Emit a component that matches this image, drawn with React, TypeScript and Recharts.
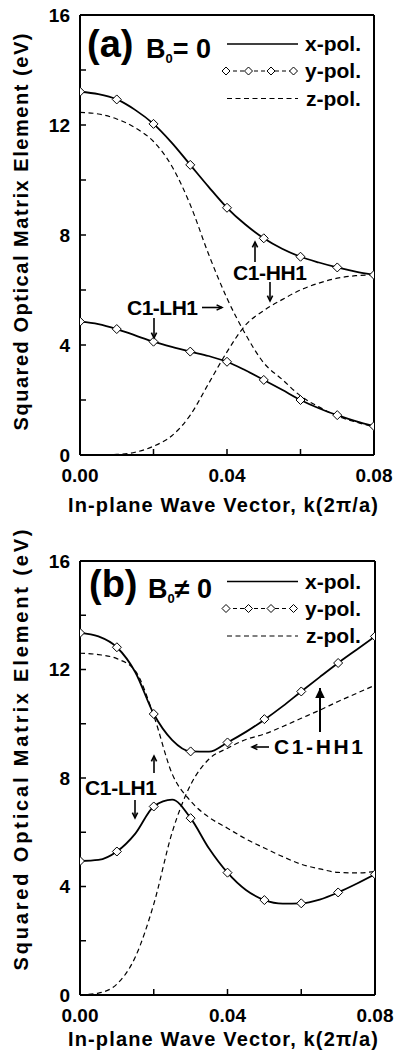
import React from 'react'
import { LineChart, Line, XAxis, YAxis } from 'recharts'

const FONT = '"Liberation Sans", Arial, Helvetica, sans-serif'

// k grid (units of 2π/a)
const kFine = [0, 0.005, 0.01, 0.015, 0.02, 0.025, 0.03, 0.035, 0.04, 0.045, 0.05, 0.055, 0.06, 0.065, 0.07, 0.075, 0.08]
const kMarks = [0, 0.01, 0.02, 0.03, 0.04, 0.05, 0.06, 0.07, 0.08]

// panel (a): B0 = 0
const aHH1x = [13.21, 13.12, 12.93, 12.55, 12.04, 11.35, 10.55, 9.75, 8.99, 8.38, 7.88, 7.5, 7.21, 7.0, 6.82, 6.67, 6.55]
const aLH1x = [4.85, 4.76, 4.58, 4.35, 4.12, 3.93, 3.76, 3.6, 3.39, 3.08, 2.73, 2.37, 2.0, 1.7, 1.45, 1.23, 1.05]
const aZfall = [12.46, 12.4, 12.22, 11.9, 11.4, 10.5, 9.1, 7.3, 5.7, 4.4, 3.35, 2.75, 2.15, 1.75, 1.42, 1.2, 1.02]
const aZrise = [0, 0, 0.02, 0.1, 0.32, 0.7, 1.45, 2.6, 3.75, 4.72, 5.25, 5.65, 6.0, 6.25, 6.43, 6.52, 6.55]
const aHH1y = [13.21, 12.93, 12.04, 10.55, 8.99, 7.88, 7.21, 6.82, 6.55]
const aLH1y = [4.85, 4.58, 4.12, 3.76, 3.39, 2.73, 2.0, 1.45, 1.05]

// panel (b): B0 ≠ 0
const bHH1x = [13.35, 13.22, 12.82, 11.9, 10.36, 9.4, 8.98, 8.97, 9.31, 9.7, 10.15, 10.65, 11.19, 11.72, 12.24, 12.73, 13.22]
const bLH1x = [4.94, 4.98, 5.29, 5.95, 6.95, 7.2, 6.52, 5.4, 4.51, 3.87, 3.5, 3.37, 3.38, 3.52, 3.78, 4.1, 4.45]
const bZfall = [12.6, 12.55, 12.4, 11.95, 10.3, 8.15, 7.15, 6.55, 6.15, 5.75, 5.42, 5.1, 4.82, 4.65, 4.52, 4.5, 4.55]
const bZrise = [0, 0.07, 0.4, 1.4, 3.35, 6.0, 7.75, 8.7, 9.1, 9.42, 9.62, 9.9, 10.2, 10.5, 10.82, 11.12, 11.42]
const bHH1y = [13.35, 12.82, 10.36, 8.98, 9.31, 10.17, 11.19, 12.24, 13.22]
const bLH1y = [4.94, 5.29, 6.95, 6.52, 4.51, 3.5, 3.38, 3.78, 4.45]

const xTicks = [0, 0.02, 0.04, 0.06, 0.08]
const yTicks = [0, 2, 4, 6, 8, 10, 12, 14, 16]

const rows = (ks: number[], vs: number[]) => ks.map((k, i) => ({ k, v: vs[i] }))

const fmtX = (v: number) => (Math.round(v * 100) % 4 === 0 ? v.toFixed(2) : '')
const fmtY = (v: number) => (v % 4 === 0 ? String(v) : '')
const blank = () => ''

const axisLine = { stroke: '#000', strokeWidth: 2 }
const tickLine = { stroke: '#000', strokeWidth: 1.5 }
const tickFont = { fill: '#000', fontSize: 19, fontWeight: 700, fontFamily: FONT }

const Diamond = (p: any) => {
  const { cx, cy, index } = p
  if (cx == null || cy == null) return <g key={index} />
  const r = 4.5
  return (
    <path
      key={index}
      d={`M${cx},${cy - r}L${cx + r},${cy}L${cx},${cy + r}L${cx - r},${cy}Z`}
      fill="#fff"
      stroke="#000"
      strokeWidth={1}
    />
  )
}

interface PanelProps {
  top: number
  height: number
  margin: { top: number; right: number; bottom: number; left: number }
  hh1x: number[]
  lh1x: number[]
  zFall: number[]
  zRise: number[]
  hh1y: number[]
  lh1y: number[]
}

// left axis 40 wide, bottom axis 30 tall, top/right axes 1px so they still render
function Panel({ top, height, margin, hh1x, lh1x, zFall, zRise, hh1y, lh1y }: PanelProps) {
  const solid = { stroke: '#000', strokeWidth: 1.8, dot: false, activeDot: false, isAnimationActive: false, type: 'monotone' as const }
  const dashed = { ...solid, strokeWidth: 1.2, strokeDasharray: '5 3.5' }
  return (
    <div style={{ position: 'absolute', top, left: 0 }}>
      <LineChart width={396} height={height} margin={margin}>
        <XAxis xAxisId="b" dataKey="k" type="number" domain={[0, 0.08]} ticks={xTicks} interval={0}
          tickFormatter={fmtX} height={30} tickSize={-6} tickMargin={20}
          axisLine={axisLine} tickLine={tickLine} tick={tickFont} allowDataOverflow />
        <XAxis xAxisId="t" orientation="top" dataKey="k" type="number" domain={[0, 0.08]} ticks={xTicks} interval={0}
          tickFormatter={blank} height={1} tickSize={-6} axisLine={axisLine} tickLine={tickLine} tick={tickFont} />
        <YAxis yAxisId="l" type="number" domain={[0, 16]} ticks={yTicks} interval={0}
          tickFormatter={fmtY} width={40} tickSize={-6} tickMargin={16}
          axisLine={axisLine} tickLine={tickLine} tick={tickFont} allowDataOverflow />
        <YAxis yAxisId="r" orientation="right" type="number" domain={[0, 16]} ticks={yTicks} interval={0}
          tickFormatter={blank} width={1} tickSize={-6} axisLine={axisLine} tickLine={tickLine} tick={tickFont} />
        <Line xAxisId="b" yAxisId="l" data={rows(kFine, zFall)} dataKey="v" {...dashed} />
        <Line xAxisId="b" yAxisId="l" data={rows(kFine, zRise)} dataKey="v" {...dashed} />
        <Line xAxisId="b" yAxisId="l" data={rows(kFine, hh1x)} dataKey="v" {...solid} />
        <Line xAxisId="b" yAxisId="l" data={rows(kFine, lh1x)} dataKey="v" {...solid} />
        <Line xAxisId="b" yAxisId="l" data={rows(kMarks, hh1y)} dataKey="v" stroke="none" dot={Diamond} activeDot={false} isAnimationActive={false} />
        <Line xAxisId="b" yAxisId="l" data={rows(kMarks, lh1y)} dataKey="v" stroke="none" dot={Diamond} activeDot={false} isAnimationActive={false} />
      </LineChart>
    </div>
  )
}

function Arrow({ x1, y1, x2, y2, head = 6, filled = false, w = 1.6 }: any) {
  const ang = Math.atan2(y2 - y1, x2 - x1)
  const spread = 0.45
  const hx1 = x2 - head * Math.cos(ang - spread)
  const hy1 = y2 - head * Math.sin(ang - spread)
  const hx2 = x2 - head * Math.cos(ang + spread)
  const hy2 = y2 - head * Math.sin(ang + spread)
  return (
    <g>
      <line x1={x1} y1={y1} x2={x2} y2={y2} stroke="#000" strokeWidth={w} />
      {filled ? (
        <path d={`M${x2},${y2}L${hx1},${hy1}L${hx2},${hy2}Z`} fill="#000" />
      ) : (
        <path d={`M${hx1},${hy1}L${x2},${y2}L${hx2},${hy2}`} fill="none" stroke="#000" strokeWidth={w} />
      )}
    </g>
  )
}

function Legend({ y0 }: { y0: number }) {
  const rowsY = [y0, y0 + 27, y0 + 54.5]
  const t = { fontSize: 21, fontWeight: 700, fontFamily: FONT, fill: '#000' }
  const dx = [226, 248.5, 271, 293.5]
  return (
    <g>
      <line x1={227} x2={298} y1={rowsY[0]} y2={rowsY[0]} stroke="#000" strokeWidth={1.5} />
      <text x={305} y={rowsY[0] + 7} {...t}>x-pol.</text>
      <line x1={226} x2={294} y1={rowsY[1]} y2={rowsY[1]} stroke="#000" strokeWidth={1.2} strokeDasharray="4 3" />
      {dx.map((x, i) => (
        <path key={i} d={`M${x},${rowsY[1] - 4}L${x + 4},${rowsY[1]}L${x},${rowsY[1] + 4}L${x - 4},${rowsY[1]}Z`} fill="#fff" stroke="#000" strokeWidth={1} />
      ))}
      <text x={305} y={rowsY[1] + 7} {...t}>y-pol.</text>
      <line x1={227} x2={298} y1={rowsY[2]} y2={rowsY[2]} stroke="#000" strokeWidth={1.2} strokeDasharray="5 3.5" />
      <text x={306} y={rowsY[2] + 7} {...t}>z-pol.</text>
    </g>
  )
}

function Overlay() {
  const bold = { fontWeight: 700, fontFamily: FONT, fill: '#000' }
  const xTitle = 'In-plane  Wave  Vector,  k(2\u03c0/a)'
  const yTitle = 'Squared  Optical  Matrix  Element  (eV)'
  return (
    <svg width={396} height={1055} style={{ position: 'absolute', top: 0, left: 0, pointerEvents: 'none' }}>
      {/* panel (a) */}
      <text x={87} y={57} fontSize={38} {...bold}>(a)</text>
      <text x={146} y={58} fontSize={27} {...bold}>
        B<tspan fontSize={13} dy={5}>0</tspan><tspan dy={-5}>= 0</tspan>
      </text>
      <Legend y0={44} />
      <text x={233} y={280} fontSize={21} textLength={74} {...bold}>C1-HH1</text>
      <Arrow x1={255} y1={262} x2={255} y2={242} />
      <Arrow x1={270} y1={282} x2={270} y2={301} />
      <text x={127} y={315} fontSize={21} textLength={71} {...bold}>C1-LH1</text>
      <Arrow x1={202} y1={307.5} x2={222} y2={307.5} />
      <Arrow x1={154} y1={318} x2={154} y2={338} />
      <text x={223} y={512} fontSize={20} textAnchor="middle" textLength={310} {...bold}>{xTitle}</text>
      <text transform="translate(28,232) rotate(-90)" fontSize={20} textAnchor="middle" textLength={397} {...bold}>{yTitle}</text>

      {/* panel (b) */}
      <text x={89} y={597} fontSize={38} {...bold}>(b)</text>
      <text x={148} y={598} fontSize={27} {...bold}>
        B<tspan fontSize={13} dy={5}>0</tspan><tspan dy={-5}>{'\u2260 0'}</tspan>
      </text>
      <Legend y0={581.5} />
      <Arrow x1={320} y1={732} x2={320} y2={688} head={11} filled w={2} />
      <Arrow x1={269} y1={747} x2={252} y2={747} />
      <text x={274} y={754} fontSize={21} textLength={89} {...bold}>C1-HH1</text>
      <text x={85} y={795} fontSize={21} textLength={72} {...bold}>C1-LH1</text>
      <Arrow x1={154} y1={773} x2={154} y2={756} />
      <Arrow x1={135} y1={800} x2={135} y2={818} />
      <text x={223} y={1046} fontSize={20} textAnchor="middle" textLength={310} {...bold}>{xTitle}</text>
      <text transform="translate(28,750) rotate(-90)" fontSize={20} textAnchor="middle" textLength={441} {...bold}>{yTitle}</text>
    </svg>
  )
}

export default function App() {
  return (
    <div style={{ position: 'absolute', top: 0, left: 0, width: 396, height: 1055, background: '#fff' }}>
      <Panel top={0} height={530} margin={{ top: 14, right: 21, bottom: 45, left: 40 }}
        hh1x={aHH1x} lh1x={aLH1x} zFall={aZfall} zRise={aZrise} hh1y={aHH1y} lh1y={aLH1y} />
      <Panel top={530} height={525} margin={{ top: 30, right: 20, bottom: 30, left: 40 }}
        hh1x={bHH1x} lh1x={bLH1x} zFall={bZfall} zRise={bZrise} hh1y={bHH1y} lh1y={bLH1y} />
      <Overlay />
    </div>
  )
}
